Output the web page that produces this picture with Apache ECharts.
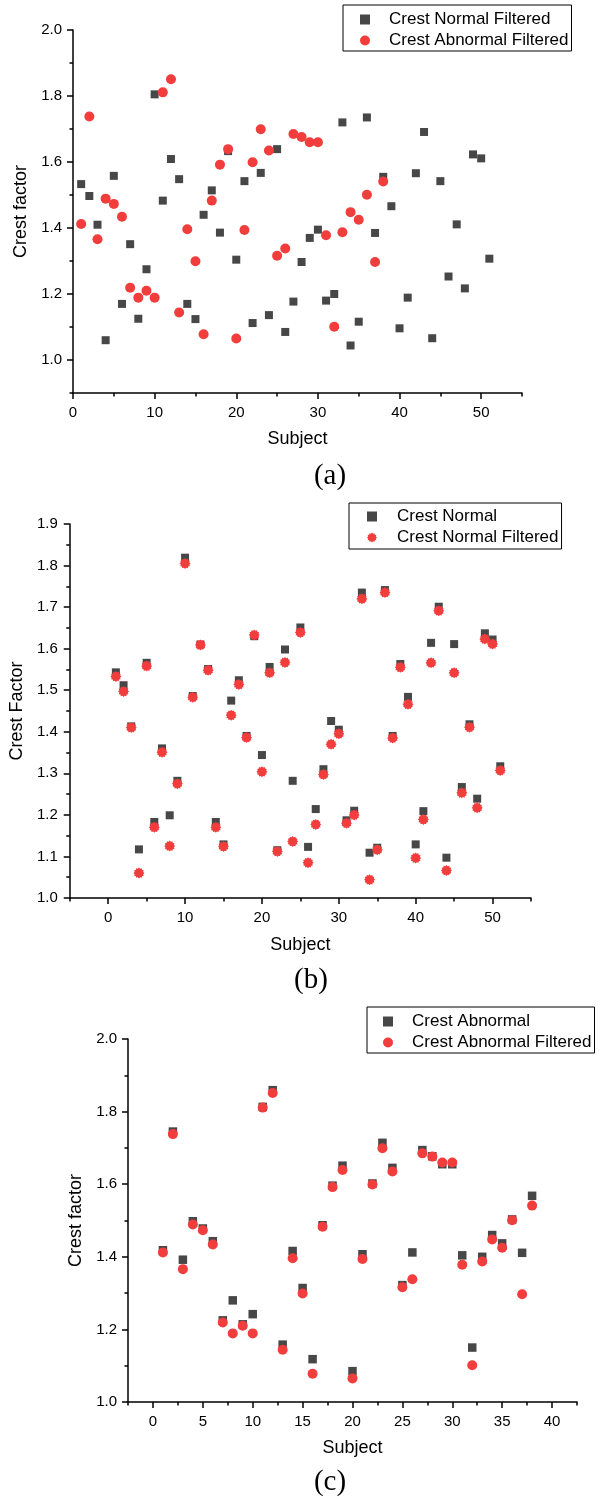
<!DOCTYPE html>
<html>
<head>
<meta charset="utf-8">
<script src="https://cdn.jsdelivr.net/npm/echarts@6/dist/echarts.min.js"></script>
<style>
html,body{margin:0;padding:0;background:#fff;}
#chart{width:601px;height:1499px;}
</style>
</head>
<body>
<div id="chart"></div>
<script>
// ---------------- DATA ----------------
const subjectsNormal = [1,2,3,4,5,6,7,8,9,10,11,12,13,14,15,16,17,18,19,20,21,22,23,24,25,26,27,28,29,30,31,32,33,34,35,36,37,38,39,40,41,42,43,44,45,46,47,48,49,50,51];
const subjectsAbnormal = [1,2,3,4,5,6,7,8,9,10,11,12,13,14,15,16,17,18,19,20,21,22,23,24,25,26,27,28,29,30,31,32,33,34,35,36,37,38];

const crestNormal = [1.543,1.512,1.413,1.117,1.566,1.183,1.360,1.199,1.282,1.819,1.486,1.610,1.551,1.183,1.129,1.475,1.524,1.390,1.630,1.344,1.556,1.115,1.598,1.282,1.651,1.123,1.214,1.310,1.426,1.405,1.187,1.210,1.735,1.109,1.121,1.741,1.390,1.563,1.484,1.129,1.209,1.614,1.701,1.097,1.611,1.267,1.418,1.239,1.637,1.622,1.317];
const crestNormalFiltered = [1.533,1.497,1.410,1.060,1.558,1.170,1.351,1.125,1.275,1.805,1.483,1.609,1.548,1.170,1.124,1.440,1.514,1.386,1.633,1.304,1.542,1.112,1.567,1.136,1.639,1.085,1.177,1.297,1.370,1.395,1.180,1.200,1.720,1.044,1.116,1.735,1.385,1.555,1.466,1.096,1.189,1.566,1.691,1.066,1.542,1.253,1.411,1.217,1.623,1.611,1.307];
const crestAbnormal = [1.418,1.745,1.392,1.498,1.478,1.443,1.225,1.280,1.214,1.242,1.813,1.859,1.158,1.416,1.314,1.118,1.487,1.596,1.651,1.085,1.407,1.602,1.714,1.645,1.322,1.412,1.694,1.677,1.655,1.655,1.404,1.150,1.400,1.460,1.437,1.503,1.411,1.568];
const crestAbnormalFiltered = [1.412,1.738,1.366,1.489,1.473,1.434,1.219,1.189,1.210,1.189,1.811,1.851,1.144,1.396,1.299,1.078,1.483,1.592,1.639,1.065,1.394,1.599,1.699,1.635,1.316,1.338,1.685,1.676,1.660,1.660,1.378,1.101,1.387,1.448,1.425,1.501,1.297,1.541];

// tick values
const xMajorA = [0,10,20,30,40,50];
const xMinorA = [5,15,25,35,45,55];
const yMajorA = [1.0,1.2,1.4,1.6,1.8,2.0];
const yMinorA = [0.9,1.1,1.3,1.5,1.7,1.9];
const xMajorB = [0,10,20,30,40,50];
const xMinorB = [-5,5,15,25,35,45,55];
const yMajorB = [1.0,1.1,1.2,1.3,1.4,1.5,1.6,1.7,1.8,1.9];
const yMinorB = [1.05,1.15,1.25,1.35,1.45,1.55,1.65,1.75,1.85];
const xMajorC = [0,5,10,15,20,25,30,35,40];
const xMinorC = [-2.5,2.5,7.5,12.5,17.5,22.5,27.5,32.5,37.5,42.5];
const yMajorC = [1.0,1.2,1.4,1.6,1.8,2.0];
const yMinorC = [1.1,1.3,1.5,1.7,1.9];

// ---------------- STYLE ----------------
const FONT = "'Liberation Sans', Arial, sans-serif";
const SERIF = "'Liberation Serif', 'Times New Roman', serif";
const GRAY = '#474747';
const RED = '#f23d3d';
function starPath(){
  const n = 12, ro = 50, ri = 40;
  let d = '';
  for (let i = 0; i < 2*n; i++){
    const r = i % 2 === 0 ? ro : ri;
    const a = Math.PI * i / n - Math.PI/2;
    d += (i === 0 ? 'M' : 'L') + (50 + r*Math.cos(a)).toFixed(2) + ',' + (50 + r*Math.sin(a)).toFixed(2);
  }
  return 'path://' + d + 'Z';
}
const STAR = starPath();

function zip(xs, ys){ return xs.map((x,i)=>[x, ys[i]]); }

const lineStyle = {color:'#000', width:1.5};
function mainAxis(kind, grid, min, max, major, name, nameGap, margin, fmt){
  return {
    type:'value', gridIndex:grid, min:min, max:max,
    position: kind === 'x' ? 'bottom' : 'left',
    name:name, nameLocation:'middle', nameGap:nameGap,
    nameTextStyle:{fontSize:18, fontFamily:FONT, color:'#000'},
    axisLine:{show:true, onZero:false, lineStyle:lineStyle},
    axisTick:{show:true, inside:false, length:6, customValues:major, lineStyle:lineStyle},
    axisLabel:{show:true, margin:margin, fontSize:15, fontFamily:FONT, color:'#000', customValues:major, formatter:fmt},
    splitLine:{show:false}, minorTick:{show:false}
  };
}
function minorAxis(kind, grid, min, max, minor){
  return {
    type:'value', gridIndex:grid, min:min, max:max,
    position: kind === 'x' ? 'bottom' : 'left',
    axisLine:{show:false, onZero:false},
    axisTick:{show:true, inside:false, length:3.5, customValues:minor, lineStyle:lineStyle},
    axisLabel:{show:false},
    splitLine:{show:false}
  };
}
function legendBox(left, top, pad, textPad, items){
  return {
    left:left, top:top, orient:'vertical', itemWidth:10, itemHeight:10, itemGap:4,
    padding:pad, borderColor:'#000', borderWidth:1, borderRadius:0,
    textStyle:{fontSize:17, lineHeight:17, color:'#000', fontFamily:FONT, padding:[0,0,0,textPad]},
    data:items
  };
}
const f1 = v => v.toFixed(1);
const f0 = v => String(Math.round(v));

const option = {
  animation:false,
  backgroundColor:'#fff',
  grid:[
    {left:73, top:30, width:449, height:363},
    {left:67, top:524, width:464, height:374},
    {left:128, top:1039, width:449, height:363}
  ],
  xAxis:[
    mainAxis('x',0,0,55,xMajorA,'Subject',37,12,f0),
    minorAxis('x',0,0,55,xMinorA),
    mainAxis('x',1,-5,55,xMajorB,'Subject',38,12,f0),
    minorAxis('x',1,-5,55,xMinorB),
    mainAxis('x',2,-2.5,42.5,xMajorC,'Subject',37,12,f0),
    minorAxis('x',2,-2.5,42.5,xMinorC)
  ],
  yAxis:[
    mainAxis('y',0,0.9,2.0,yMajorA,'Crest factor',38,11,f1),
    minorAxis('y',0,0.9,2.0,yMinorA),
    mainAxis('y',1,1.0,1.9,yMajorB,'Crest Factor',41,12,f1),
    minorAxis('y',1,1.0,1.9,yMinorB),
    mainAxis('y',2,1.0,2.0,yMajorC,'Crest factor',38,11,f1),
    minorAxis('y',2,1.0,2.0,yMinorC)
  ],
  legend:[
    legendBox(343, 5, [6,3,2,17], 14,
      [{name:'Crest Normal Filtered', icon:'rect', itemStyle:{color:GRAY, opacity:1}},
       {name:'Crest Abnormal Filtered', icon:'circle', itemStyle:{color:RED, opacity:1}}]),
    legendBox(349, 503, [5,3,3,18], 15,
      [{name:'Crest Normal', icon:'rect', itemStyle:{color:GRAY, opacity:1}},
       {name:'Crest Normal Filtered', icon:STAR, itemStyle:{color:RED, opacity:1}}]),
    legendBox(367, 1007, [6,3,2,16], 14,
      [{name:'Crest Abnormal', icon:'rect', itemStyle:{color:GRAY, opacity:1}},
       {name:'Crest Abnormal Filtered', icon:'circle', itemStyle:{color:RED, opacity:1}}])
  ],
  graphic:[
    {type:'text', x:330, y:476, style:{text:'(a)', font:'29px ' + SERIF, fill:'#000', align:'center', verticalAlign:'middle'}},
    {type:'text', x:311, y:980, style:{text:'(b)', font:'29px ' + SERIF, fill:'#000', align:'center', verticalAlign:'middle'}},
    {type:'text', x:330, y:1482, style:{text:'(c)', font:'29px ' + SERIF, fill:'#000', align:'center', verticalAlign:'middle'}}
  ],
  series:[
    {type:'scatter', name:'Crest Normal Filtered', xAxisIndex:0, yAxisIndex:0, symbol:'rect', symbolSize:8,
     itemStyle:{color:GRAY, opacity:1}, data:zip(subjectsNormal, crestNormalFiltered), emphasis:{disabled:true}},
    {type:'scatter', name:'Crest Abnormal Filtered', xAxisIndex:0, yAxisIndex:0, symbol:'circle', symbolSize:10,
     itemStyle:{color:RED, opacity:1}, data:zip(subjectsAbnormal, crestAbnormalFiltered), emphasis:{disabled:true}},
    {type:'scatter', name:'Crest Normal', xAxisIndex:2, yAxisIndex:2, symbol:'rect', symbolSize:8,
     itemStyle:{color:GRAY, opacity:1}, data:zip(subjectsNormal, crestNormal), emphasis:{disabled:true}},
    {type:'scatter', name:'Crest Normal Filtered', xAxisIndex:2, yAxisIndex:2, symbol:STAR, symbolSize:11,
     itemStyle:{color:RED, opacity:1}, data:zip(subjectsNormal, crestNormalFiltered), emphasis:{disabled:true}},
    {type:'scatter', name:'Crest Abnormal', xAxisIndex:4, yAxisIndex:4, symbol:'rect', symbolSize:8.5,
     itemStyle:{color:GRAY, opacity:1}, data:zip(subjectsAbnormal, crestAbnormal), emphasis:{disabled:true}},
    {type:'scatter', name:'Crest Abnormal Filtered', xAxisIndex:4, yAxisIndex:4, symbol:'circle', symbolSize:10,
     itemStyle:{color:RED, opacity:1}, data:zip(subjectsAbnormal, crestAbnormalFiltered), emphasis:{disabled:true}}
  ]
};
const chart = echarts.init(document.getElementById('chart'), null, {renderer:'canvas', width:601, height:1499});
chart.setOption(option);
</script>
</body>
</html>
